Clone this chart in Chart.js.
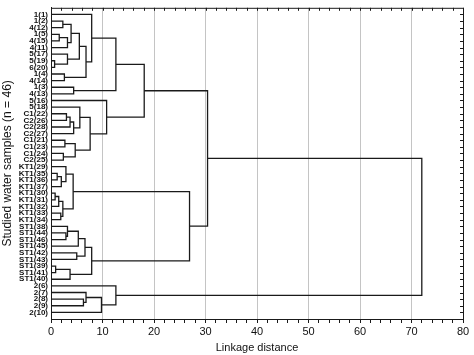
<!DOCTYPE html>
<html><head><meta charset="utf-8">
<script src="https://cdn.jsdelivr.net/npm/chart.js@4/dist/chart.umd.min.js"></script>
<style>html,body{margin:0;padding:0;background:#fff}#wrap{width:474px;height:355px;position:relative}</style>
</head><body><div id="wrap"><canvas id="c"></canvas></div>
<script>
// Leaf labels (top to bottom)
const leaves = ['1(1)','1(2)','4(12)','1(5)','4(15)','4(11)','5(17)','5(19)','6(20)','1(4)','4(14)','1(3)','4(13)','5(16)','5(18)',
  'C1(22)','C2(26)','C2(28)','C2(27)','C1(21)','C1(23)','C1(24)','C2(25)',
  'KT1(29)','KT1(35)','KT1(36)','KT1(37)','KT1(30)','KT1(31)','KT1(32)','KT1(33)','KT1(34)',
  'ST1(38)','ST1(44)','ST1(46)','ST1(45)','ST1(42)','ST1(43)','ST1(39)','ST1(41)','ST1(40)',
  '2(6)','2(7)','2(8)','2(9)','2(10)'];
// Linkage: merge k joins node mergeA[k] with node mergeB[k] at mergeDist[k]
// node ids < 46 are leaves, id 46+k is the result of merge k
const mergeA = [1, 3, 47, 46, 7, 6, 49, 9, 52, 0, 11, 55, 15, 58, 59, 14, 19, 21, 62, 61, 13, 57,
  24, 68, 23, 27, 71, 30, 72, 70, 33, 32, 77, 36, 78, 38, 81, 80, 75, 67, 43, 42, 87, 41, 85];
const mergeB = [2, 4, 5, 48, 8, 50, 51, 10, 53, 54, 12, 56, 16, 17, 18, 60, 20, 22, 63, 64, 65, 66,
  25, 26, 69, 28, 29, 31, 73, 74, 34, 76, 35, 37, 79, 39, 40, 82, 83, 84, 44, 86, 45, 88, 89];
const mergeDist = [2.3, 1.6, 3.2, 3.9, 0.7, 3.2, 5.5, 2.6, 6.8, 7.9, 4.4, 12.6, 3.0, 3.7, 4.4, 5.6, 2.7, 2.4, 4.7, 7.6, 10.8, 18.1,
  1.2, 2.0, 2.9, 0.8, 1.5, 1.9, 2.3, 4.3, 2.9, 3.2, 5.3, 5.0, 6.6, 0.9, 3.7, 7.9, 26.9, 30.4, 6.3, 6.8, 9.8, 12.6, 72.0];
const xTicksMajor = [0, 10, 20, 30, 40, 50, 60, 70, 80];

const n = leaves.length;
const nodeX = [], nodeY = [];
for (let i = 0; i < n; i++) { nodeX[i] = 0; nodeY[i] = i; }
const datasets = [];
mergeA.forEach((a, k) => {
  const b = mergeB[k], d = mergeDist[k];
  nodeX[n + k] = d; nodeY[n + k] = (nodeY[a] + nodeY[b]) / 2;
  datasets.push({
    data: [{x: nodeX[a], y: nodeY[a]}, {x: d, y: nodeY[a]}, {x: d, y: nodeY[b]}, {x: nodeX[b], y: nodeY[b]}],
    showLine: true, borderColor: '#1a1a1a', borderWidth: 1.3, pointRadius: 0, fill: false, tension: 0
  });
});

const frame = {
  id: 'frame',
  afterDraw(chart) {
    const {ctx, chartArea: a, scales} = chart;
    ctx.save();
    ctx.strokeStyle = '#1a1a1a'; ctx.lineWidth = 1;
    ctx.strokeRect(a.left + 0.5, a.top + 0.5, a.right - a.left, a.bottom - a.top);
    ctx.beginPath();
    for (let i = 0; i < n; i++) {
      const y = Math.round(scales.y.getPixelForValue(i)) + 0.5;
      ctx.moveTo(a.right, y); ctx.lineTo(a.right - 3, y);
    }
    for (let v = 0; v <= 80; v += 2) {
      const x = Math.round(scales.x.getPixelForValue(v)) + 0.5;
      ctx.moveTo(x, a.top); ctx.lineTo(x, a.top + 3);
    }
    ctx.stroke();
    ctx.restore();
  }
};

new Chart(document.getElementById('c'), {
  type: 'scatter',
  data: { datasets },
  options: {
    responsive: true, maintainAspectRatio: false, animation: false,
    layout: { padding: { top: 7, right: 11, bottom: 0, left: 0 } },
    plugins: { legend: { display: false }, tooltip: { enabled: false } },
    scales: {
      x: {
        type: 'linear', min: 0, max: 80,
        afterFit: s => { s.height = 36; },
        ticks: {
          stepSize: 2, autoSkip: false, maxRotation: 0, color: '#111', padding: 2,
          font: { family: 'Liberation Sans, Arial, sans-serif', size: 11 },
          callback: v => xTicksMajor.includes(v) ? String(v) : ''
        },
        grid: {
          color: c => (c.tick && xTicksMajor.includes(c.tick.value) && c.tick.value !== 0 && c.tick.value !== 80) ? '#c4c4c4' : 'rgba(0,0,0,0)',
          tickColor: '#1a1a1a', tickLength: 4, lineWidth: 1
        },
        border: { display: true, color: '#1a1a1a' },
        title: { display: true, text: 'Linkage distance', color: '#111', padding: { top: 1, bottom: 0 },
          font: { family: 'Liberation Sans, Arial, sans-serif', size: 11 } }
      },
      y: {
        type: 'linear', reverse: true, min: -1, max: 46,
        afterFit: s => { s.width = 51; },
        ticks: {
          stepSize: 1, autoSkip: false, color: '#111', padding: 3,
          font: { family: 'Liberation Sans, Arial, sans-serif', size: 8, weight: 'bold' },
          callback: v => (v >= 0 && v < n && Number.isInteger(v)) ? leaves[v] : ''
        },
        grid: { display: false, drawTicks: false },
        border: { display: true, color: '#1a1a1a' },
        title: { display: true, text: 'Studied water samples (n = 46)', color: '#111', padding: 0,
          font: { family: 'Liberation Sans, Arial, sans-serif', size: 12 } }
      }
    }
  },
  plugins: [frame]
});
</script></body></html>
